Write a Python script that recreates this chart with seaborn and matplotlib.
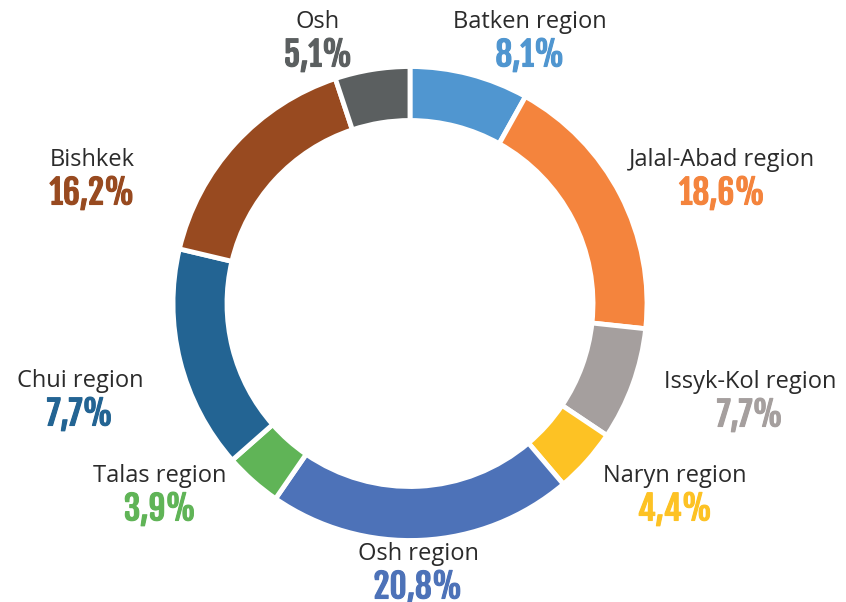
import matplotlib
matplotlib.use("Agg")
import matplotlib.pyplot as plt
import matplotlib.patheffects as pe
import seaborn as sns

# Regions, clockwise from the top
regions = ["Batken region", "Jalal-Abad region", "Issyk-Kol region", "Naryn region",
           "Osh region", "Talas region", "Chui region", "Bishkek", "Osh"]
# slice sizes as drawn in the picture (Chui slice is drawn larger than its label)
shares = [8.1, 18.6, 7.7, 4.4, 20.8, 3.9, 15.2, 16.2, 5.1]
# percentages as printed
labels_pct = ["8,1%", "18,6%", "7,7%", "4,4%", "20,8%", "3,9%", "7,7%", "16,2%", "5,1%"]
colors = ["#5096D0", "#F4843D", "#A59F9E", "#FDC224", "#4D72B8",
          "#60B457", "#236493", "#984A20", "#5B5F60"]

sns.set_theme(style="white")
plt.rcParams["font.family"] = ["Open Sans", "DejaVu Sans"]
palette = sns.color_palette(colors)

fig = plt.figure(figsize=(8.46, 6.02), dpi=100)
ax = fig.add_axes([0, 0, 1, 1])

cx, cy, R = 410, 602 - 303.5, 237
ax.pie(shares, colors=palette, startangle=90, counterclock=False,
       center=(cx, cy), radius=R,
       wedgeprops=dict(width=54, edgecolor="white", linewidth=3.5))
ax.set_xlim(0, 846)
ax.set_ylim(0, 602)
ax.set_aspect("equal")
ax.axis("off")

# label anchor positions (pixels from top-left)
label_pos = {
    "Batken region": (530, 22), "Jalal-Abad region": (722, 160),
    "Issyk-Kol region": (750, 382), "Naryn region": (675, 476),
    "Osh region": (418, 554), "Talas region": (160, 476),
    "Chui region": (80, 381), "Bishkek": (92, 160), "Osh": (318, 22),
}

for name, pct, col in zip(regions, labels_pct, palette):
    x, y = label_pos[name]
    ax.text(x, 602 - y, name, ha="center", va="center", fontsize=17,
            color="#2b2b2b")
    ax.text(x, 602 - y - 33, pct, ha="center", va="center", fontsize=24,
            color=col,
            family=["Fjalla One", "Roboto Condensed", "DejaVu Sans"],
            path_effects=[pe.withStroke(linewidth=0.8, foreground=col)])

fig.savefig("out.png", dpi=100)
